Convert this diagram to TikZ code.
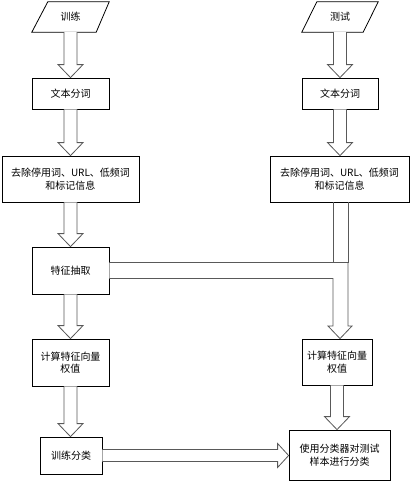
\documentclass[tikz,border=0pt]{standalone}
\usepackage{fontspec}
\setmainfont{Noto Sans CJK SC}
\usetikzlibrary{calc}
\tikzset{
  box/.style={draw=black, line width=0.8pt, fill=white, inner sep=0pt, align=center, font=\fontsize{10pt}{12.5pt}\selectfont},
  para/.style={inner sep=0pt, align=center, font=\fontsize{10pt}{12.5pt}\selectfont},
  arr/.style={draw=black!65, line width=0.8pt, fill=white, line join=miter},
}
\newcommand{\varr}[2]{%
  \draw[arr] let \p1=(#1.south), \p2=(#2.north) in
    (\x1-6.5pt,\y1) -- (\x1-6.5pt,\y2+13pt) -- (\x1-12.5pt,\y2+13pt) -- (\x1,\y2)
    -- (\x1+12.5pt,\y2+13pt) -- (\x1+6.5pt,\y2+13pt) -- (\x1+6.5pt,\y1);}
\begin{document}
\begin{tikzpicture}[x=1pt,y=-1pt]
\useasboundingbox[fill=white] (0,0) rectangle (411,482);
% left column
\node[para, minimum width=77, minimum height=30] (train) at (70.5,17) {训练};
\draw[black, line width=0.8pt] (train.south west) -- ($(train.north west)+(16,0)$) -- (train.north east) -- ($(train.south east)+(-13,0)$) -- cycle;
\node[box, minimum width=77, minimum height=31] (seg1) at (70.5,93.5) {文本分词};
\node[box, minimum width=137, minimum height=46] (stop1) at (70.5,179) {去除停用词、URL、低频词\\和标记信息};
\node[box, minimum width=77, minimum height=47] (feat) at (70.5,270.5) {特征抽取};
\node[box, minimum width=77, minimum height=47] (wt1) at (70.5,362.5) {计算特征向量\\权值};
\node[box, minimum width=62, minimum height=37] (cls) at (71,455.5) {训练分类};
% right column
\node[para, minimum width=76, minimum height=30] (test) at (340,17) {测试};
\draw[black, line width=0.8pt] (test.south west) -- ($(test.north west)+(15,0)$) -- (test.north east) -- ($(test.south east)+(-15,0)$) -- cycle;
\node[box, minimum width=76, minimum height=31] (seg2) at (340,93.5) {文本分词};
\node[box, minimum width=139, minimum height=46] (stop2) at (339.5,179) {去除停用词、URL、低频词\\和标记信息};
\node[box, minimum width=70, minimum height=46] (wt2) at (337,362) {计算特征向量\\权值};
\node[box, minimum width=101, minimum height=50] (use) at (339.5,455) {使用分类器对测试\\样本进行分类};
% vertical arrows
\varr{train}{seg1}
\varr{seg1}{stop1}
\varr{stop1}{feat}
\varr{feat}{wt1}
\varr{wt1}{cls}
\varr{test}{seg2}
\varr{seg2}{stop2}
\varr{wt2}{use}
% bent arrow from feature extraction to right weight box
\draw[arr] let \p1=(feat.east), \p2=(wt2.north) in
  (\x1,\y1+8pt) -- (348,\y1+8pt) coordinate (bendtop) -- (348,326) -- (352,326) -- (340,\y2)
  -- (328,326) -- (333,326) -- (333,\y1-8pt) -- (\x1,\y1-8pt);
% merge of right stop-word shaft
\draw[arr, fill=none] (stop2.south -| 333,0) -- (333,262.5);
\draw[arr, fill=none] (stop2.south -| 348,0) -- (348,262.5);
% horizontal arrow from training classifier to use
\draw[arr] let \p1=(cls.east), \p2=(use.west) in
  (\x1,\y1+6pt) -- (\x2-11pt,\y1+6pt) -- (\x2-11pt,\y1+12pt) -- (\x2,\y1)
  -- (\x2-11pt,\y1-12pt) -- (\x2-11pt,\y1-6pt) -- (\x1,\y1-6pt);
\end{tikzpicture}
\end{document}
